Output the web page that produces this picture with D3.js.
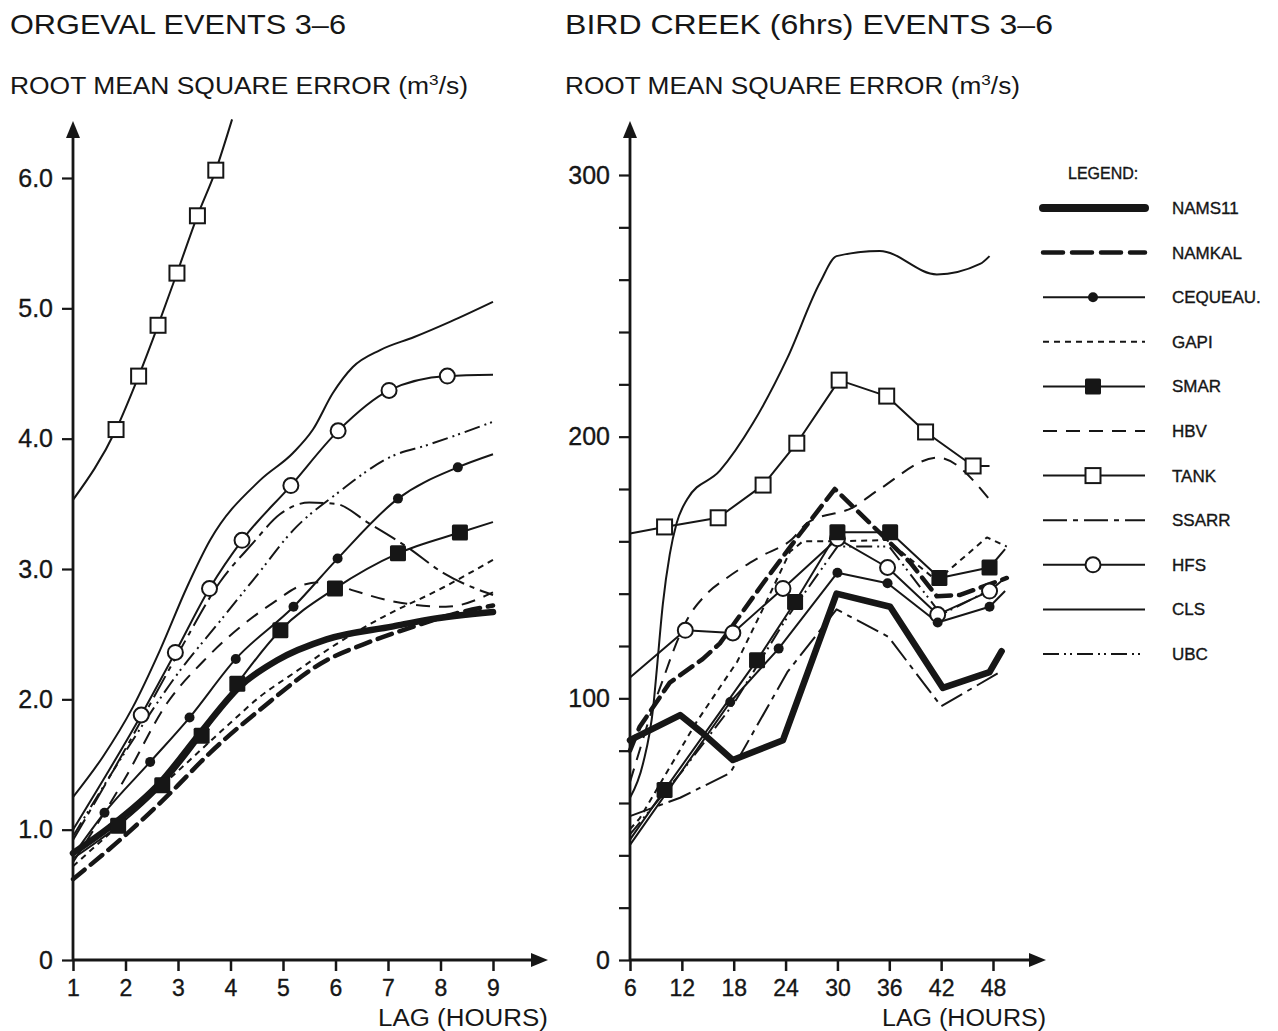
<!DOCTYPE html>
<html><head><meta charset="utf-8">
<script src="https://cdn.jsdelivr.net/npm/d3@7"></script>
<style>
body{margin:0;background:#fff}
text{font-family:"Liberation Sans",Arial,sans-serif;fill:#161616}
.tk text, text.lg{stroke:#161616;stroke-width:0.35px}
</style>
</head><body><svg id="c" width="1278" height="1031"></svg>
<script>
// ---------- DATA ----------
const modelNames = ["NAMS11","NAMKAL","CEQUEAU.","GAPI","SMAR","HBV","TANK","SSARR","HFS","CLS","UBC"];
const orgevalLagTicks = [1,2,3,4,5,6,7,8,9];
const orgevalErrTicks = [0,1,2,3,4,5,6];
const birdLagTicks = [6,12,18,24,30,36,42,48];
const birdErrTicks = [0,20,40,60,80,100,120,140,160,180,200,220,240,260,280,300];
const birdErrLabels = [0,100,200,300];

// Orgeval (lag hours, RMSE m3/s)
const orgeval_NAMS11 = [[1,0.82],[1.7,1.02],[2.66,1.36],[3.42,1.74],[4.18,2.1],[4.89,2.3],[5.83,2.46],[7.1,2.56],[7.74,2.61],[9,2.67]];
const orgeval_NAMKAL = [[1,0.62],[2.03,0.97],[2.85,1.28],[3.61,1.59],[4.56,1.92],[5.83,2.3],[6.52,2.42],[7.5,2.56],[8.3,2.66],[9,2.72]];
const orgeval_CEQUEAU = [[1,0.8],[1.6,1.13],[2.47,1.52],[3.22,1.86],[4.1,2.31],[5.2,2.71],[6.04,3.08],[7.19,3.54],[8.33,3.78],[9,3.88]];
const orgeval_GAPI = [[1,0.72],[2,1.08],[3,1.45],[4,1.82],[4.56,2.02],[5.2,2.2],[6,2.42],[6.85,2.62],[8.06,2.86],[9,3.07]];
const orgeval_SMAR = [[1,0.78],[1.86,1.03],[2.7,1.34],[3.45,1.72],[4.13,2.12],[4.95,2.53],[5.99,2.85],[7.19,3.12],[8.37,3.28],[9,3.36]];
const orgeval_HBV = [[1,0.75],[2,1.4],[2.79,1.97],[3.5,2.3],[4.81,2.74],[5.4,2.88],[5.8,2.9],[6.3,2.84],[7,2.76],[8.1,2.71],[9,2.82]];
const orgeval_TANK = [[1,3.53],[1.82,4.07],[2.25,4.48],[2.62,4.87],[2.98,5.27],[3.37,5.71],[3.72,6.06],[4.03,6.45]];
const orgeval_SSARR = [[1,0.92],[2,1.62],[3,2.35],[3.8,2.9],[4.43,3.2],[4.94,3.42],[5.5,3.51],[6,3.5],[6.64,3.35],[7.36,3.17],[8.05,2.97],[9,2.8]];
const orgeval_HFS = [[1,1.0],[2.3,1.88],[2.95,2.36],[3.6,2.85],[4.22,3.22],[5.15,3.64],[6.05,4.06],[7.02,4.37],[8.13,4.48],[9,4.49]];
const orgeval_CLS = [[1,1.25],[1.57,1.56],[2.14,1.94],[2.66,2.38],[3.17,2.86],[3.61,3.22],[4.56,3.68],[5.19,3.89],[5.57,4.07],[5.95,4.35],[6.33,4.55],[6.85,4.68],[7.5,4.78],[8.2,4.9],[9,5.05]];
const orgeval_UBC = [[1,0.95],[2,1.6],[3,2.2],[3.8,2.6],[4.5,2.95],[5.2,3.3],[6.03,3.58],[7.1,3.87],[7.74,3.95],[9,4.13]];

// Bird Creek (lag hours, RMSE m3/s)
const bird_NAMS11 = [[6,84],[11.8,93.6],[14.3,87],[17.9,76.4],[23.7,84],[29.9,140],[36.1,135],[42.2,104],[47.6,110],[49,118]];
const bird_NAMKAL = [[6,80],[7.1,89],[10.6,106],[14.4,115],[16.4,121],[21.4,144],[25.7,163],[29.7,180],[38.4,152],[41.5,139],[44.2,139.5],[49.6,146]];
const bird_CEQUEAU = [[6,44],[17.6,98.6],[23.2,119],[30,148],[35.8,144],[41.6,129],[47.6,135],[49.4,141]];
const bird_GAPI = [[6,50],[7.1,54],[13.7,91],[18.4,114],[21.5,135],[24.5,156],[26,160],[30,160],[35.7,160.5],[41.5,145],[47.3,161.5],[49.6,158]];
const bird_SMAR = [[6,46],[10,65],[20.7,114.6],[25.1,136.8],[30,163.5],[36.1,163.5],[41.8,146],[47.6,150],[49.4,157]];
const bird_HBV = [[6,68],[7.1,80],[8.7,97],[9.8,107],[11,118],[12.6,130],[14.9,140],[17.2,146],[21,154],[24.8,161],[26.5,167],[31.8,173],[34.9,180],[41.6,192],[47.6,176]];
const bird_TANK = [[6,163],[10,165.5],[16.2,169],[21.4,181.5],[25.3,197.5],[30.2,221.6],[35.7,215.5],[40.2,201.8],[45.7,188.8],[47.6,188.8]];
const bird_SSARR = [[6,55],[11.8,62],[17.6,71.5],[24.2,110],[29.9,134],[35.9,123.5],[42,97],[48.8,110]];
const bird_HFS = [[6,108],[12.4,126],[17.9,125],[23.7,142],[30,161],[35.8,150],[41.6,132],[47.6,141],[49.4,146]];
const bird_CLS = [[6,62],[7.5,75],[8.7,97],[9.1,111],[9.8,136],[10.6,155],[11.4,167],[12.6,176],[16.4,187],[20.2,205],[24.2,230],[28,259],[29.9,269],[34.9,271],[41.5,262],[46.5,266],[47.6,269]];
const bird_UBC = [[6,48],[12,72],[18,98],[24,130],[30,158],[36,158],[42,132],[48,142]];

// ---------- STYLE TABLE ----------
const INK = "#161616";
const styles = {
  "NAMS11":  {w:6.5, dash:null, marker:null},
  "NAMKAL":  {w:4.5, dash:"15,8", marker:null},
  "CEQUEAU.":{w:2, dash:null, marker:"dot"},
  "GAPI":    {w:2, dash:"6,5", marker:null},
  "SMAR":    {w:2, dash:null, marker:"fsquare"},
  "HBV":     {w:2, dash:"14,9", marker:null},
  "TANK":    {w:2, dash:null, marker:"osquare"},
  "SSARR":   {w:2, dash:"24,6,5,6", marker:null},
  "HFS":     {w:2, dash:null, marker:"ocircle"},
  "CLS":     {w:2, dash:null, marker:null},
  "UBC":     {w:2, dash:"16,5,2,4,2,5", marker:null}
};
const orgevalSeries = {"NAMS11":orgeval_NAMS11,"NAMKAL":orgeval_NAMKAL,"CEQUEAU.":orgeval_CEQUEAU,"GAPI":orgeval_GAPI,"SMAR":orgeval_SMAR,"HBV":orgeval_HBV,"TANK":orgeval_TANK,"SSARR":orgeval_SSARR,"HFS":orgeval_HFS,"CLS":orgeval_CLS,"UBC":orgeval_UBC};
const birdSeries = {"NAMS11":bird_NAMS11,"NAMKAL":bird_NAMKAL,"CEQUEAU.":bird_CEQUEAU,"GAPI":bird_GAPI,"SMAR":bird_SMAR,"HBV":bird_HBV,"TANK":bird_TANK,"SSARR":bird_SSARR,"HFS":bird_HFS,"CLS":bird_CLS,"UBC":bird_UBC};

const svg = d3.select("#c");

function drawMarker(g, type, cx, cy) {
  if (type === "dot") g.append("circle").attr("cx",cx).attr("cy",cy).attr("r",5).attr("fill",INK);
  else if (type === "ocircle") g.append("circle").attr("cx",cx).attr("cy",cy).attr("r",7.5).attr("fill","#fff").attr("stroke",INK).attr("stroke-width",2);
  else if (type === "osquare") g.append("rect").attr("x",cx-7.5).attr("y",cy-7.5).attr("width",15).attr("height",15).attr("fill","#fff").attr("stroke",INK).attr("stroke-width",2);
  else if (type === "fsquare") g.append("rect").attr("x",cx-8).attr("y",cy-8).attr("width",16).attr("height",16).attr("rx",1.5).attr("fill",INK);
}

function panel(o) {
  const g = svg.append("g");
  const x = d3.scaleLinear().domain(o.xDomain).range(o.xRange);
  const y = d3.scaleLinear().domain(o.yDomain).range(o.yRange);
  const y0 = y(0), x0 = x(o.xDomain[0]);

  g.append("line").attr("x1",x0).attr("x2",o.xArrow-14).attr("y1",y0).attr("y2",y0).attr("stroke",INK).attr("stroke-width",2.8);
  g.append("path").attr("d",`M${o.xArrow},${y0} L${o.xArrow-17},${y0-7} L${o.xArrow-17},${y0+7} Z`).attr("fill",INK);
  g.append("line").attr("x1",x0).attr("x2",x0).attr("y1",y0).attr("y2",o.yArrow+14).attr("stroke",INK).attr("stroke-width",2.8);
  g.append("path").attr("d",`M${x0},${o.yArrow} L${x0-7},${o.yArrow+17} L${x0+7},${o.yArrow+17} Z`).attr("fill",INK);

  const ax = g.append("g").attr("class","tk").attr("transform",`translate(0,${y0})`)
    .call(d3.axisBottom(x).tickValues(o.xTicks).tickSize(11).tickPadding(9).tickFormat(d3.format("d")));
  ax.select(".domain").remove();
  ax.selectAll("line").attr("stroke",INK).attr("stroke-width",2.5);
  ax.selectAll("text").attr("font-size",23).attr("font-family","Liberation Sans").attr("fill",INK);

  const ay = g.append("g").attr("class","tk").attr("transform",`translate(${x0},0)`)
    .call(d3.axisLeft(y).tickValues(o.yTicks).tickSize(11).tickPadding(9).tickFormat(o.yFmt));
  ay.select(".domain").remove();
  ay.selectAll("line").attr("stroke",INK).attr("stroke-width",2.2);
  ay.selectAll("text").attr("font-size",25).attr("font-family","Liberation Sans").attr("fill",INK);

  const order = ["UBC","SSARR","HBV","GAPI","CLS","TANK","HFS","CEQUEAU.","SMAR","NAMKAL","NAMS11"];
  order.forEach(name => {
    const st = styles[name], data = o.series[name];
    const curve = (o.curves && o.curves[name]) || o.curve;
    const line = d3.line().x(d=>x(d[0])).y(d=>y(d[1])).curve(curve);
    const p = g.append("path").attr("d",line(data)).attr("fill","none").attr("stroke",INK)
      .attr("stroke-width",st.w).attr("stroke-linejoin","round").attr("stroke-linecap", st.w>4 ? "round":"butt");
    if (st.dash) p.attr("stroke-dasharray",st.dash);
  });
  ["TANK","HFS","CEQUEAU.","SMAR"].forEach(name => {
    const st = styles[name], data = o.series[name];
    data.slice(1,-1).forEach(d => drawMarker(g, st.marker, x(d[0]), y(d[1])));
  });

  g.append("text").attr("x",o.tx).attr("y",34).attr("font-size",28).attr("textLength",o.titleLen).attr("lengthAdjust","spacingAndGlyphs").text(o.title);
  const t2 = g.append("text").attr("x",o.tx).attr("y",94).attr("font-size",23).attr("textLength",o.subLen).attr("lengthAdjust","spacingAndGlyphs");
  t2.append("tspan").text("ROOT MEAN SQUARE ERROR (m");
  t2.append("tspan").attr("dy",-9).attr("font-size",15).text("3");
  t2.append("tspan").attr("dy",9).text("/s)");
  g.append("text").attr("x",o.xArrow).attr("y",1026).attr("text-anchor","end").attr("font-size",23)
    .attr("textLength",o.lagLen).attr("lengthAdjust","spacingAndGlyphs").text("LAG (HOURS)");
  return g;
}

panel({
  xDomain:[1,9], xRange:[73,493], yDomain:[0,6], yRange:[960,178],
  xArrow:548, yArrow:121, xTicks:orgevalLagTicks, yTicks:orgevalErrTicks,
  yFmt: d => d===0 ? "0" : d3.format(".1f")(d),
  series: orgevalSeries, curve: d3.curveMonotoneX,
  tx:10, title:"ORGEVAL EVENTS 3\u20136", titleLen:336, subLen:458, lagLen:170
});

panel({
  xDomain:[6,48], xRange:[630,993], yDomain:[0,300], yRange:[960,175],
  xArrow:1046, yArrow:121, xTicks:birdLagTicks, yTicks:birdErrTicks,
  yFmt: d => birdErrLabels.includes(d) ? String(d) : "",
  series: birdSeries, curve: d3.curveLinear,
  curves: {"CLS": d3.curveMonotoneX, "HBV": d3.curveMonotoneX},
  tx:565, title:"BIRD CREEK (6hrs) EVENTS 3\u20136", titleLen:488, subLen:455, lagLen:164
});

// ---------- LEGEND ----------
const lg = svg.append("g");
lg.append("text").attr("class","lg").attr("x",1068).attr("y",179).attr("font-size",16).text("LEGEND:");
const legY = d3.scalePoint().domain(modelNames).range([208,654]);
modelNames.forEach(name => {
  const st = styles[name], yy = legY(name);
  const l = lg.append("line").attr("x1",1043).attr("x2",1145).attr("y1",yy).attr("y2",yy)
    .attr("stroke",INK).attr("stroke-width", name==="NAMS11" ? 8 : st.w).attr("stroke-linecap", st.w>4 ? "round":"butt");
  if (st.dash) l.attr("stroke-dasharray", name==="NAMKAL" ? "20,9" : st.dash);
  if (st.marker) drawMarker(lg, st.marker, 1093, yy);
  lg.append("text").attr("class","lg").attr("x",1172).attr("y",yy+6).attr("font-size",17).text(name);
});
</script></body></html>
